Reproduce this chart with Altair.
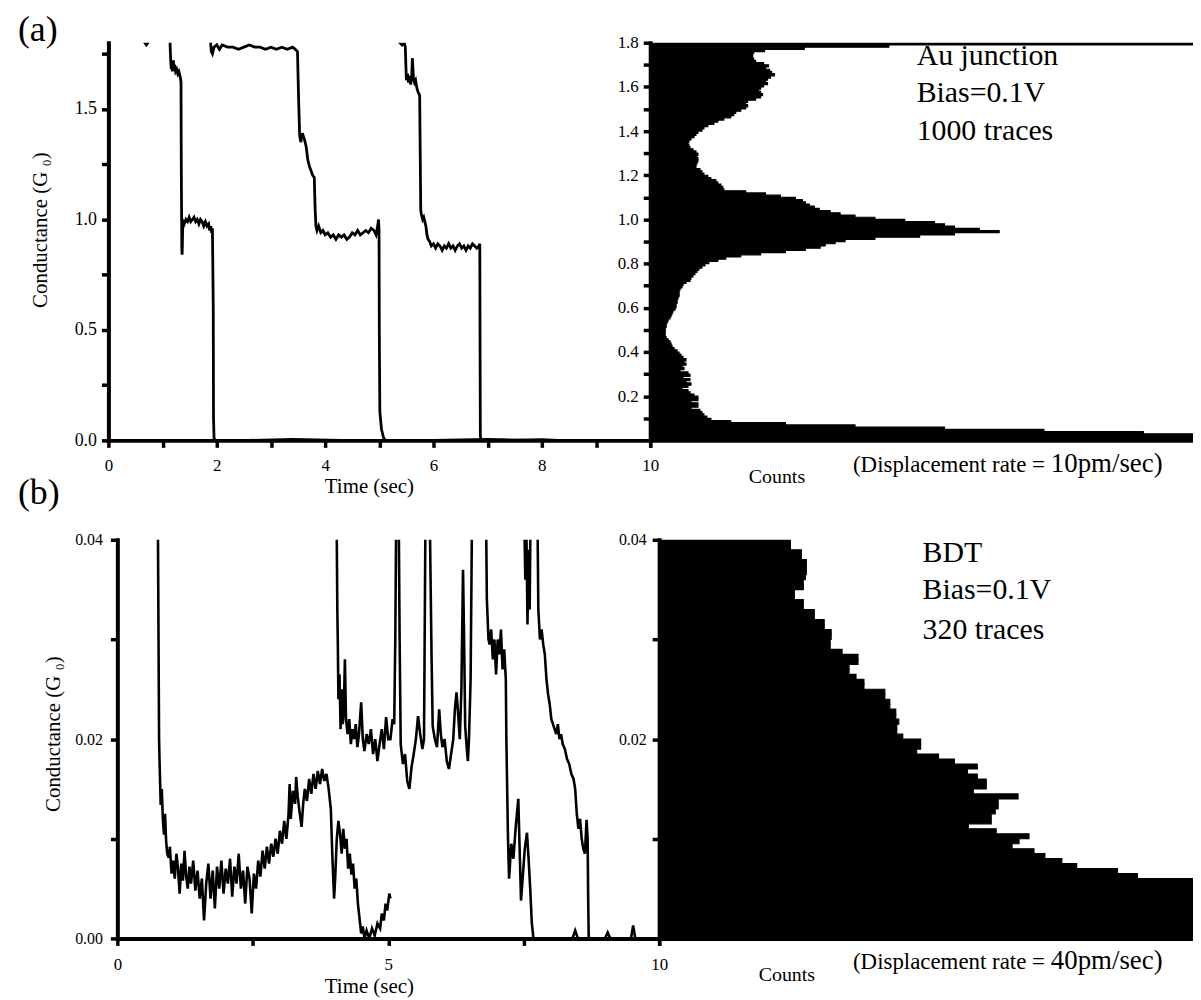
import altair as alt
import pandas as pd

FONT = "Liberation Serif"

# ---------------- (a) Au junction : three conductance traces ----------------
A1_T = [0.64, 0.67, 0.70, 0.73, 0.76, 1.05, 1.13, 1.14, 1.15, 1.16, 1.17, 1.18, 1.19, 1.20, 1.21,
        1.22, 1.24, 1.26, 1.28, 1.30, 1.32, 1.33, 1.34, 1.345, 1.355, 1.36, 1.365, 1.37, 1.38, 1.40,
        1.43, 1.46, 1.49, 1.52, 1.55, 1.58, 1.61, 1.64, 1.67, 1.70, 1.73, 1.76, 1.79, 1.82, 1.85,
        1.87, 1.89, 1.905, 1.92, 1.935, 1.94, 1.95, 1.97, 2.6, 3.4, 4.3]
A1_G = [1.86, 1.80, 1.79, 1.80, 1.86, 2.00, 1.92, 1.78, 1.72, 1.68, 1.70, 1.67, 1.69, 1.72, 1.68,
        1.70, 1.67, 1.68, 1.66, 1.67, 1.65, 1.64, 1.62, 1.25, 0.87, 0.84, 0.88, 0.95, 0.99, 0.98,
        1.00, 0.99, 1.01, 0.99, 1.00, 1.01, 0.99, 1.00, 0.98, 1.00, 0.99, 0.97, 0.99, 0.97, 0.98,
        0.95, 0.97, 0.94, 0.96, 0.60, 0.10, 0.01, 0.00, 0.00, 0.004, 0.00]

A2_T = [1.88, 1.89, 1.90, 1.92, 1.95, 2.00, 2.05, 2.10, 2.20, 2.30, 2.40, 2.50, 2.60, 2.70, 2.80,
        2.90, 3.00, 3.10, 3.20, 3.30, 3.40, 3.45, 3.49, 3.51, 3.53, 3.55, 3.58, 3.62, 3.65, 3.68,
        3.71, 3.74, 3.77, 3.80, 3.815, 3.83, 3.85, 3.88, 3.92, 3.96, 4.00, 4.05, 4.10, 4.15, 4.20,
        4.25, 4.30, 4.35, 4.40, 4.45, 4.50, 4.55, 4.60, 4.65, 4.70, 4.75, 4.80, 4.85, 4.90, 4.94,
        4.97, 4.985, 4.995, 5.00, 5.01, 5.04, 5.08, 5.12, 6.0, 7.0, 8.0, 8.3]
A2_G = [1.85, 1.79, 1.76, 1.75, 1.78, 1.79, 1.77, 1.79, 1.78, 1.78, 1.77, 1.78, 1.79, 1.78, 1.78,
        1.77, 1.78, 1.77, 1.78, 1.77, 1.78, 1.77, 1.76, 1.55, 1.38, 1.35, 1.39, 1.36, 1.33, 1.27,
        1.24, 1.22, 1.20, 1.19, 1.05, 0.97, 0.95, 0.97, 0.94, 0.95, 0.93, 0.94, 0.92, 0.93, 0.91,
        0.93, 0.92, 0.93, 0.91, 0.92, 0.94, 0.93, 0.95, 0.93, 0.94, 0.95, 0.94, 0.96, 0.95, 0.93,
        0.97, 1.00, 0.95, 0.50, 0.13, 0.05, 0.01, 0.00, 0.00, 0.004, 0.00, 0.00]

A3_T = [5.36, 5.38, 5.42, 5.46, 5.48, 5.49, 5.50, 5.52, 5.54, 5.56, 5.58, 5.60, 5.61, 5.63, 5.65,
        5.67, 5.69, 5.71, 5.73, 5.745, 5.755, 5.765, 5.78, 5.80, 5.82, 5.84, 5.86, 5.88, 5.90, 5.93,
        5.96, 6.00, 6.04, 6.08, 6.12, 6.16, 6.20, 6.24, 6.28, 6.32, 6.36, 6.40, 6.44, 6.48, 6.52,
        6.56, 6.60, 6.64, 6.68, 6.72, 6.76, 6.80, 6.84, 6.855, 6.86, 6.865, 6.88, 7.5, 8.0, 8.3]
A3_G = [1.90, 1.80, 1.79, 1.80, 1.78, 1.70, 1.63, 1.66, 1.62, 1.65, 1.61, 1.66, 1.73, 1.64, 1.62,
        1.63, 1.60, 1.58, 1.57, 1.56, 1.30, 1.04, 1.02, 1.00, 1.01, 0.99, 0.97, 0.93, 0.91, 0.90,
        0.88, 0.89, 0.87, 0.89, 0.88, 0.86, 0.88, 0.87, 0.89, 0.87, 0.88, 0.86, 0.88, 0.89, 0.87,
        0.88, 0.86, 0.88, 0.87, 0.89, 0.88, 0.87, 0.88, 0.89, 0.40, 0.02, 0.00, 0.00, 0.003, 0.00]

# histogram (a): counts per 0.01 G0 bin, from 0.00 to 1.80
HIST_A_STEP = 0.01
HIST_A_COUNTS = [
    800, 700, 600, 506, 406, 306, 216, 146, 91, 71,
    67, 64, 62, 60, 51, 58, 58, 51, 58, 58,
    54, 50, 48, 42, 48, 51, 46, 50, 43, 50,
    48, 40, 44, 42, 46, 44, 46, 43, 41, 39,
    37, 34, 32, 31, 30, 28, 26, 25, 25, 25,
    25, 26, 26, 27, 28, 30, 31, 32, 33, 35,
    36, 36, 37, 37, 38, 39, 39, 39, 40, 42,
    43, 46, 50, 51, 53, 55, 57, 59, 62, 65,
    69, 78, 86, 101, 121, 146, 166, 181, 186, 196,
    206, 236, 281, 316, 361, 341, 316, 306, 296, 266,
    236, 216, 201, 191, 180, 175, 170, 166, 163, 156,
    141, 126, 106, 84, 83, 81, 78, 76, 71, 68,
    64, 62, 60, 56, 56, 57, 58, 58, 57, 58,
    56, 53, 50, 49, 48, 49, 51, 54, 56, 58,
    62, 64, 68, 74, 78, 84, 91, 94, 96, 101,
    106, 108, 106, 108, 116, 121, 123, 121, 119, 121,
    124, 128, 126, 128, 131, 135, 132, 130, 126, 129,
    124, 116, 114, 113, 113, 114, 125, 165, 250, 800]

# ---------------- (b) BDT : three conductance traces ----------------
B1_T = [0.74, 0.75, 0.76, 0.77, 0.78, 0.80, 0.82, 0.84, 0.86, 0.88,
        0.90, 0.92, 0.95, 0.97, 1.00, 1.03, 1.06, 1.09, 1.12, 1.15,
        1.18, 1.21, 1.24, 1.27, 1.30, 1.33, 1.36, 1.40, 1.44, 1.48,
        1.52, 1.56, 1.60, 1.64, 1.68, 1.72, 1.76, 1.80, 1.84, 1.88,
        1.92, 1.96, 2.00, 2.04, 2.08, 2.12, 2.16, 2.20, 2.24, 2.28,
        2.32, 2.36, 2.40, 2.44, 2.48, 2.52, 2.56, 2.60, 2.64, 2.68,
        2.72, 2.76, 2.80, 2.84, 2.88, 2.92, 2.96, 3.00, 3.04, 3.08,
        3.12, 3.16, 3.18, 3.20, 3.24, 3.28, 3.30, 3.33, 3.36, 3.40,
        3.43, 3.46, 3.50, 3.54, 3.58, 3.62, 3.66, 3.70, 3.74, 3.78,
        3.82, 3.86, 3.90, 3.94, 3.97, 4.00, 4.02, 4.05, 4.08, 4.11,
        4.14, 4.17, 4.20, 4.23, 4.26, 4.29, 4.32, 4.35, 4.38, 4.41,
        4.44, 4.47, 4.50, 4.53, 4.56, 4.60, 4.65, 4.70, 4.75, 4.80,
        4.85, 4.88, 4.92, 4.95, 4.98, 5.02, 5.04]
B1_G = [0.045, 0.040, 0.030, 0.020, 0.0175, 0.0134, 0.0150, 0.0120, 0.0104, 0.0125,
        0.0098, 0.0085, 0.0081, 0.0092, 0.0065, 0.0078, 0.0060, 0.0085, 0.0070, 0.0045,
        0.0075, 0.0058, 0.0088, 0.0062, 0.0050, 0.0072, 0.0055, 0.0078, 0.0048, 0.0068,
        0.0040, 0.0060, 0.0018, 0.0055, 0.0075, 0.0040, 0.0068, 0.0030, 0.0072, 0.0050,
        0.0078, 0.0045, 0.0070, 0.0055, 0.0080, 0.0042, 0.0072, 0.0055, 0.0085, 0.0050,
        0.0068, 0.0035, 0.0072, 0.0060, 0.0025, 0.0065, 0.0050, 0.0078, 0.0062, 0.0088,
        0.0070, 0.0092, 0.0075, 0.0095, 0.0082, 0.0100, 0.0085, 0.0108, 0.0095, 0.0118,
        0.0100, 0.0125, 0.0155, 0.0120, 0.0148, 0.0135, 0.0162, 0.0142, 0.0128, 0.0112,
        0.0135, 0.0150, 0.0138, 0.0160, 0.0145, 0.0165, 0.0150, 0.0168, 0.0155, 0.0170,
        0.0158, 0.0165, 0.0150, 0.0130, 0.0080, 0.0040, 0.0060, 0.0100, 0.0118, 0.0105,
        0.0085, 0.0110, 0.0090, 0.0100, 0.0070, 0.0085, 0.0064, 0.0075, 0.0050, 0.0060,
        0.0035, 0.0020, 0.0005, 0.0012, 0.0000, 0.0008, 0.0000, 0.0010, 0.0003, 0.0015,
        0.0010, 0.0025, 0.0018, 0.0035, 0.0028, 0.0045, 0.0040]

B2_T = [4.03, 4.05, 4.06, 4.07, 4.08, 4.10, 4.12, 4.14, 4.16, 4.18,
        4.20, 4.22, 4.25, 4.28, 4.31, 4.34, 4.37, 4.40, 4.43, 4.46,
        4.50, 4.53, 4.56, 4.60, 4.64, 4.68, 4.72, 4.76, 4.80, 4.84,
        4.88, 4.92, 4.96, 5.00, 5.04, 5.08, 5.11, 5.13, 5.15, 5.19,
        5.21, 5.23, 5.27, 5.31, 5.35, 5.39, 5.43, 5.47, 5.51, 5.55,
        5.59, 5.63, 5.66, 5.69, 5.76, 5.80, 5.82, 5.86, 5.90, 5.94,
        5.97, 6.00, 6.04, 6.08, 6.12, 6.16, 6.20, 6.23, 6.26, 6.29,
        6.32, 6.35, 6.38, 6.40, 6.42, 6.45, 6.47, 6.49, 6.52, 6.55,
        6.80, 6.82, 6.85, 6.87, 6.90, 6.93, 6.96, 6.99, 7.02, 7.05,
        7.08, 7.11, 7.14, 7.17, 7.18, 7.21, 7.23, 7.27, 7.31, 7.35,
        7.40, 7.43, 7.45, 7.48, 7.52, 7.56, 7.59, 7.62, 7.65, 7.68,
        8.40, 8.45, 8.50, 9.00, 9.05, 9.10, 9.48, 9.52, 9.56, 9.80]
B2_G = [0.045, 0.040, 0.033, 0.0293, 0.0240, 0.0265, 0.0210, 0.0250, 0.0215, 0.0230,
        0.0280, 0.0220, 0.0205, 0.0220, 0.0195, 0.0210, 0.0200, 0.0215, 0.0192, 0.0205,
        0.0237, 0.0200, 0.0188, 0.0205, 0.0195, 0.0210, 0.0185, 0.0200, 0.0178, 0.0195,
        0.0210, 0.0190, 0.0222, 0.0200, 0.0200, 0.0220, 0.0215, 0.0300, 0.0450, 0.0450,
        0.0300, 0.0195, 0.0175, 0.0185, 0.0158, 0.0150, 0.0172, 0.0185, 0.0200, 0.0223,
        0.0205, 0.0190, 0.0200, 0.0450, 0.0450, 0.0280, 0.0213, 0.0200, 0.0192, 0.0230,
        0.0205, 0.0192, 0.0200, 0.0178, 0.0170, 0.0185, 0.0200, 0.0230, 0.0247, 0.0225,
        0.0200, 0.0250, 0.0370, 0.0300, 0.0213, 0.0190, 0.0178, 0.0200, 0.0260, 0.0450,
        0.0450, 0.0340, 0.0300, 0.0295, 0.0310, 0.0280, 0.0300, 0.0265, 0.0300, 0.0285,
        0.0310, 0.0270, 0.0290, 0.0260, 0.0200, 0.0100, 0.0060, 0.0095, 0.0080, 0.0110,
        0.0140, 0.0080, 0.0038, 0.0060, 0.0090, 0.0106, 0.0080, 0.0050, 0.0015, 0.0000,
        0.0000, 0.0008, 0.0000, 0.0000, 0.0006, 0.0000, 0.0000, 0.0013, 0.0000, 0.0000]

B3_T = [7.50, 7.53, 7.55, 7.57, 7.59, 7.61, 7.63, 7.75, 7.77, 7.80,
        7.83, 7.86, 7.89, 7.92, 7.95, 7.98, 8.01, 8.04, 8.07, 8.10,
        8.13, 8.16, 8.19, 8.22, 8.26, 8.30, 8.34, 8.38, 8.42, 8.45,
        8.48, 8.51, 8.54, 8.57, 8.60, 8.63, 8.66, 8.68, 8.69, 8.70, 9.60]
B3_G = [0.045, 0.036, 0.041, 0.0315, 0.039, 0.033, 0.045, 0.045, 0.033, 0.0300,
        0.0310, 0.0295, 0.0285, 0.0260, 0.0245, 0.0235, 0.0220, 0.0215, 0.0210, 0.0205,
        0.0215, 0.0200, 0.0205, 0.0195, 0.0190, 0.0180, 0.0175, 0.0165, 0.0160, 0.0150,
        0.0125, 0.0110, 0.0120, 0.0100, 0.0090, 0.0085, 0.0119, 0.0100, 0.0040, 0.0000, 0.0000]

# histogram (b): counts per 0.0005 G0 bin, from 0.000 to 0.040
HIST_B_STEP = 0.0005
HIST_B_COUNTS = [
    600, 600, 600, 600, 600, 600, 600, 600, 600, 600,
    600, 600, 491, 471, 430, 415, 398, 387, 365, 372,
    382, 349, 321, 344, 344, 348, 351, 351, 371, 326,
    339, 339, 330, 320, 330, 307, 291, 269, 273, 273,
    255, 249, 249, 251, 248, 248, 242, 242, 237, 237,
    216, 216, 208, 201, 201, 210, 210, 194, 182, 182,
    183, 183, 176, 176, 166, 166, 155, 155, 146, 146,
    155, 155, 157, 158, 158, 158, 153, 153, 142, 142]

TOP_X_TICKS = [0, 1, 2, 3, 4, 5, 6, 7, 8, 9, 10]
TOP_Y_TICKS = [0, 0.25, 0.5, 0.75, 1.0, 1.25, 1.5, 1.75]
TOP_HIST_Y_TICKS = [0.1, 0.2, 0.3, 0.4, 0.5, 0.6, 0.7, 0.8, 0.9, 1.0,
                    1.1, 1.2, 1.3, 1.4, 1.5, 1.6, 1.7, 1.8]
BOT_X_TICKS = [0, 2.5, 5, 7.5, 10]
BOT_Y_TICKS = [0, 0.01, 0.02, 0.03, 0.04]
BOT_HIST_Y_TICKS = [0.01, 0.02, 0.03, 0.04]

Y_TITLE = "Conductance (G \u2080)"


def traces_df(traces):
    rows = []
    for name, ts, gs in traces:
        for i, (t, g) in enumerate(zip(ts, gs)):
            rows.append({"trace": name, "i": i, "t": t, "G": g})
    return pd.DataFrame(rows)


def hist_df(counts, step, nd):
    return pd.DataFrame({
        "lo": [round(k * step, nd) for k in range(len(counts))],
        "hi": [round((k + 1) * step, nd) for k in range(len(counts))],
        "count": counts,
    })


def ax(**kw):
    d = dict(domainColor="black", domainWidth=4, domainCap="square",
             tickColor="black", tickWidth=3.5, tickSize=7,
             labelColor="black", labelFont=FONT, grid=False,
             labelOverlap=False, labelFlush=False, zindex=1,
             titleFont=FONT, titleColor="black", titleFontWeight="normal")
    d.update(kw)
    return alt.Axis(**d)


ONE = pd.DataFrame({"k": [0]})


def note(text, px, py, size, align="left"):
    return alt.Chart(ONE).mark_text(
        text=text, font=FONT, fontSize=size, align=align,
        baseline="alphabetic", color="black"
    ).encode(x=alt.value(px), y=alt.value(py))


df_a = traces_df([("a1", A1_T, A1_G), ("a2", A2_T, A2_G), ("a3", A3_T, A3_G)])
df_b = traces_df([("b1", B1_T, B1_G), ("b2", B2_T, B2_G), ("b3", B3_T, B3_G)])
h_a = hist_df(HIST_A_COUNTS, HIST_A_STEP, 2)
h_b = hist_df(HIST_B_COUNTS, HIST_B_STEP, 4)

# ---------------- top-left : traces (a) ----------------
tl_line = alt.Chart(df_a).mark_line(color="black", strokeWidth=2.8, clip=True).encode(
    x=alt.X("t:Q", scale=alt.Scale(domain=[0, 10], nice=False, zero=False),
            axis=ax(values=TOP_X_TICKS, labelFontSize=17, labelPadding=10,
                    labelExpr="datum.value % 2 == 0 ? datum.label : ''",
                    title="Time (sec)", titleFontSize=21, titleX=262, titleY=52,
                    titleAlign="center", titleBaseline="alphabetic")),
    y=alt.Y("G:Q", scale=alt.Scale(domain=[0, 1.8], nice=False, zero=False),
            axis=ax(values=TOP_Y_TICKS, labelFontSize=18, labelPadding=5,
                    labelExpr="abs(datum.value*2 - round(datum.value*2)) < 0.001 ? format(datum.value, '.1f') : ''",
                    title=Y_TITLE, titleFontSize=21, titleAngle=270, titleX=-62, titleY=188,
                    titleAlign="center", titleBaseline="alphabetic")),
    detail="trace:N",
    order="i:Q",
)
anchor = alt.Chart(ONE).mark_rule(strokeOpacity=0, strokeWidth=1).encode(
    x=alt.value(-100.5), y=alt.value(-31.5), y2=alt.value(-20))
tl = alt.layer(tl_line, note("(a)", -91, -2, 36), anchor).properties(width=545, height=400)

# ---------------- top-right : histogram (a) ----------------
tr_bars = alt.Chart(h_a).mark_bar(color="black", stroke="black", strokeWidth=1.2, clip=True).encode(
    y=alt.Y("lo:Q", scale=alt.Scale(domain=[0, 1.8], nice=False, zero=False),
            axis=ax(values=TOP_HIST_Y_TICKS, labelFontSize=17, labelPadding=5,
                    labelExpr="round(datum.value*10) % 2 == 0 ? format(datum.value, '.1f') : ''",
                    title=None)),
    y2="hi:Q",
    x=alt.X("count:Q", scale=alt.Scale(domain=[10, 556], nice=False, zero=False),
            axis=ax(values=[10], labels=False, title="Counts", titleFontSize=20,
                    titleX=127, titleY=42, titleAlign="center", titleBaseline="alphabetic")),
    x2=alt.datum(10),
)
tr = alt.layer(
    tr_bars,
    note("Au junction", 268, 22, 30),
    note("Bias=0.1V", 268, 60, 30),
    note("1000 traces", 268, 98, 30),
    note("(Displacement rate = ", 204, 432, 23),
    note("10pm/sec)", 403, 432, 27),
).properties(width=546, height=400)

# ---------------- bottom-left : traces (b) ----------------
bl_line = alt.Chart(df_b).mark_line(color="black", strokeWidth=2.6, clip=True).encode(
    x=alt.X("t:Q", scale=alt.Scale(domain=[0, 10], range=[9, 554], nice=False, zero=False),
            axis=ax(values=BOT_X_TICKS, labelFontSize=17, labelPadding=11,
                    labelExpr="datum.value % 5 == 0 ? datum.label : ''",
                    title="Time (sec)", titleFontSize=21, titleX=262, titleY=54,
                    titleAlign="center", titleBaseline="alphabetic")),
    y=alt.Y("G:Q", scale=alt.Scale(domain=[0, 0.04], nice=False, zero=False),
            axis=ax(values=BOT_Y_TICKS, labelFontSize=16, labelPadding=8, offset=-9,
                    labelExpr="round(datum.value*1000) % 20 == 0 ? format(datum.value, '.2f') : ''",
                    title=Y_TITLE, titleFontSize=21, titleAngle=270, titleX=-58, titleY=195,
                    titleAlign="center", titleBaseline="alphabetic")),
    detail="trace:N",
    order="i:Q",
)
bl = alt.layer(bl_line, note("(b)", -91, -36, 36)).properties(width=545, height=401)

# ---------------- bottom-right : histogram (b) ----------------
br_bars = alt.Chart(h_b).mark_bar(color="black", stroke="black", strokeWidth=1.2, clip=True).encode(
    y=alt.Y("lo:Q", scale=alt.Scale(domain=[0, 0.04], nice=False, zero=False),
            axis=ax(values=BOT_HIST_Y_TICKS, labelFontSize=16, labelPadding=6, offset=-9,
                    labelExpr="round(datum.value*1000) % 20 == 0 ? format(datum.value, '.2f') : ''",
                    title=None)),
    y2="hi:Q",
    x=alt.X("count:Q", scale=alt.Scale(domain=[10, 547], range=[9, 546], nice=False, zero=False),
            axis=ax(values=[10], labels=False, title="Counts", titleFontSize=20,
                    titleX=137, titleY=42, titleAlign="center", titleBaseline="alphabetic")),
    x2=alt.datum(10),
)
br = alt.layer(
    br_bars,
    note("BDT", 274, 22, 30),
    note("Bias=0.1V", 274, 60, 30),
    note("320 traces", 274, 100, 30),
    note("(Displacement rate = ", 204, 432, 23),
    note("40pm/sec)", 403, 432, 27),
).properties(width=546, height=401)

chart = alt.concat(
    tl, tr, bl, br,
    columns=2,
    spacing={"row": 100, "column": 0},
    bounds="flush",
    align="each",
    padding=0,
).configure_view(strokeWidth=0).configure_axis(labelFont=FONT, titleFont=FONT)

chart.save("out.html", embed_options={"renderer": "svg", "actions": False})
